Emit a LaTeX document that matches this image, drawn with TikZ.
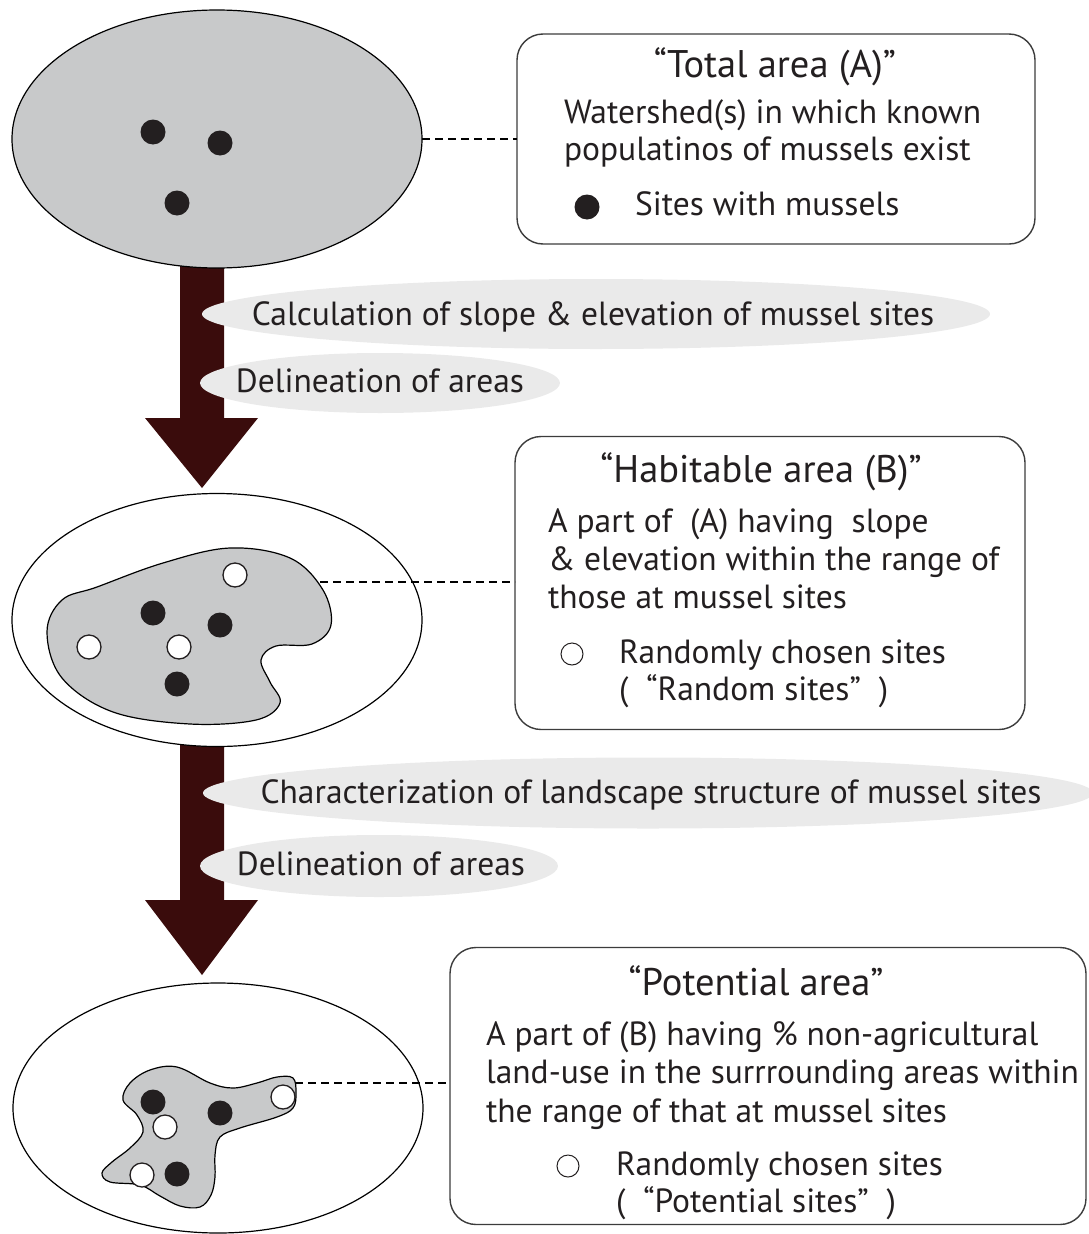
\documentclass[tikz,border=0pt]{standalone}
\usepackage{fontspec}
\setmainfont{PT Sans}
\usetikzlibrary{shapes.geometric,calc}
\definecolor{arrowc}{RGB}{58,12,12}
\definecolor{areagray}{RGB}{200,201,202}
\definecolor{bandgray}{RGB}{234,234,234}
\definecolor{inkc}{RGB}{35,31,32}
\definecolor{boxline}{RGB}{60,60,60}
\begin{document}
\begin{tikzpicture}[x=1pt,y=-1pt,
  every node/.style={inner sep=0pt, outer sep=0pt},
  area/.style={ellipse, draw=black, line width=1.2pt},
  infobox/.style={draw=boxline, line width=1.4pt, rounded corners=26pt, fill=white},
  band/.style={ellipse, fill=bandgray},
  lbl/.style={font=\fontsize{33.5}{40}\selectfont, text=inkc, anchor=base},
  txt/.style={font=\fontsize{33.5}{40}\selectfont, text=inkc, anchor=base west},
  ttl/.style={font=\fontsize{38.5}{46}\selectfont, text=inkc, anchor=base},
  leader/.style={dash pattern=on 8pt off 5pt, line width=1.3pt},
  site/.style={circle, fill=inkc, minimum size=25pt},
  rsite/.style={circle, draw=inkc, fill=white, line width=1.3pt, minimum size=24pt},
  keysite/.style={circle, draw=inkc, fill=white, line width=1pt, minimum size=22pt},
  blob/.style={draw=black, fill=areagray, line width=1.2pt}
]
\useasboundingbox (0,0) rectangle (1088,1234);

% big arrows
\coordinate (a1s) at (202,250);
\coordinate (a1e) at (202,488);
\coordinate (a2s) at (202,730);
\coordinate (a2e) at (202,975);
\fill[arrowc] ($(a1s)+(-22,0)$) -- ($(a1s)+(22,0)$) -- ($(a1e)+(22,-70)$) -- ($(a1e)+(56,-70)$) -- (a1e) -- ($(a1e)+(-57,-70)$) -- ($(a1e)+(-22,-70)$) -- cycle;
\fill[arrowc] ($(a2s)+(-22,0)$) -- ($(a2s)+(22,0)$) -- ($(a2e)+(22,-75)$) -- ($(a2e)+(56,-75)$) -- (a2e) -- ($(a2e)+(-57,-75)$) -- ($(a2e)+(-22,-75)$) -- cycle;

% areas
\node[area, fill=areagray, minimum width=410pt, minimum height=258pt] (e1) at (217,139) {};
\node[area, fill=white, minimum width=410pt, minimum height=253pt] (e2) at (217,620) {};
\node[area, fill=white, minimum width=410pt, minimum height=250pt] (e3) at (218,1108) {};

\node[site] (s1) at (153,132) {};
\node[site] (s2) at (220,143) {};
\node[site] (s3) at (177,203) {};

% habitable blob
\draw[blob] plot[smooth cycle, tension=0.6] coordinates {(47,632) (62,600) (97,587) (163,563) (230,548) (290,558) (323,590) (331,625) (312,644) (276,646) (261,660) (270,682) (280,703) (256,720) (190,724) (113,712) (62,678)};
\node[site] (s4) at (153,613) {};
\node[site] (s5) at (220,625) {};
\node[site] (s6) at (177,684) {};
\node[rsite] (r1) at (235,575) {};
\node[rsite] (r2) at (89,647) {};
\node[rsite] (r3) at (179,647) {};

% potential blob
\draw[blob] plot[smooth cycle, tension=0.6] coordinates {(123,1100) (130,1083) (150,1070) (177,1067) (210,1083) (233,1088) (257,1083) (277,1077) (293,1078) (296,1093) (293,1108) (277,1117) (240,1128) (220,1137) (215,1155) (215,1177) (211,1195) (200,1207) (180,1206) (160,1196) (140,1185) (110,1182) (102,1173) (112,1162) (130,1148) (143,1132) (137,1115)};
\node[site] (s7) at (153,1102) {};
\node[site] (s8) at (220,1113) {};
\node[site] (s9) at (177,1174) {};
\node[rsite] (r4) at (165,1127) {};
\node[rsite] (r5) at (283,1097) {};
\node[rsite] (r6) at (142,1175) {};

% process bands
\node[band, minimum width=788pt, minimum height=70pt] (b1) at (596,314) {};
\node[lbl] at (593,325) {Calculation of slope \& elevation of mussel sites};
\node[band, minimum width=360pt, minimum height=60pt] (b2) at (380,383) {};
\node[lbl] at (380,392) {Delineation of areas};
\node[band, minimum width=890pt, minimum height=71pt] (b3) at (648,793) {};
\node[lbl] at (651,803) {Characterization of landscape structure of mussel sites};
\node[band, minimum width=358pt, minimum height=62pt] (b4) at (379,866) {};
\node[lbl] at (381,875) {Delineation of areas};

% info boxes
\node[infobox, minimum width=518pt, minimum height=210pt] (x1) at (776,139) {};
\node[infobox, minimum width=510pt, minimum height=293pt] (x2) at (770,583) {};
\node[infobox, minimum width=636pt, minimum height=277pt] (x3) at (768,1086) {};

\node[ttl] (t1) at (775,77) {“Total area (A)”};
\node[txt] at (564,123) {Watershed(s) in which known};
\node[txt] at (564,160) {populatinos of mussels exist};
\node[site] (k1) at (587,207) {};
\node[txt] at (635,215) {Sites with mussels};

\node[ttl] (t2) at (761,482) {“Habitable area (B)”};
\node[txt] at (548,532) {A part of\ \ (A) having\ \ slope};
\node[txt] at (548,570) {\& elevation within the range of};
\node[txt] at (548,608) {those at mussel sites};
\node[keysite] (k2) at (572,654) {};
\node[txt] at (619,663) {Randomly chosen sites};
\node[txt] at (619,700) {(\ \ “Random sites”\ \ )};

\node[ttl] (t3) at (756,995) {“Potential area”};
\node[txt] at (486,1045) {A part of (B) having \% non-agricultural};
\node[txt] at (486,1083) {land-use in the surrrounding areas within};
\node[txt] at (486,1122) {the range of that at mussel sites};
\node[keysite] (k3) at (568,1166) {};
\node[txt] at (616,1175) {Randomly chosen sites};
\node[txt] at (616,1212) {(\ \ “Potential sites”\ \ )};

% leaders
\coordinate (p1) at (320,582);
\coordinate (p2) at (295,1083);
\draw[leader] (e1.east) -- (x1.west);
\draw[leader] (p1) -- (p1 -| x2.west);
\draw[leader] (p2) -- (p2 -| x3.west);
\end{tikzpicture}
\end{document}
